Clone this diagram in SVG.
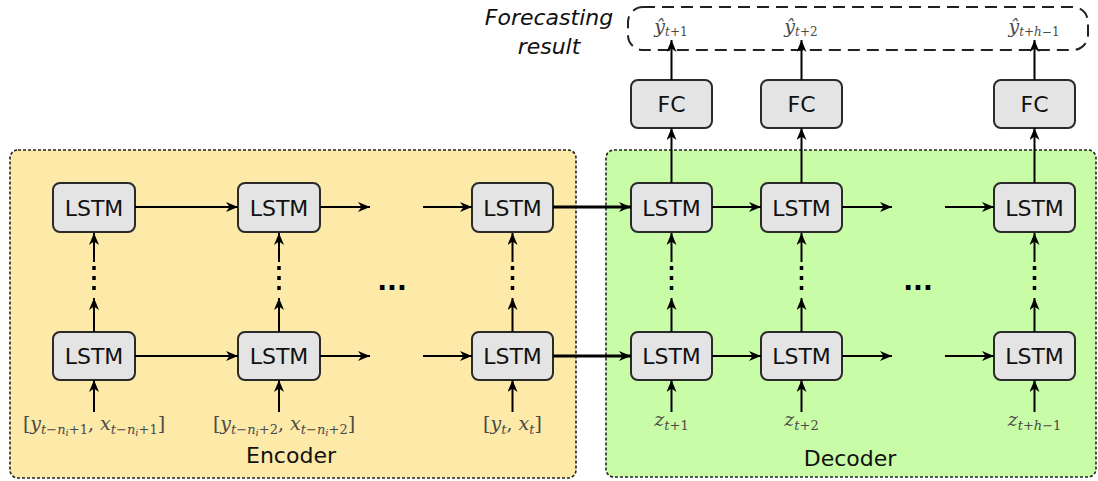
<svg xmlns="http://www.w3.org/2000/svg" width="1098" height="481" viewBox="0 0 1098 481">
  <style>
    .panel { stroke: #222; stroke-width: 1.6; stroke-dasharray: 3 2; }
    .cell rect { fill: #e4e4e4; stroke: #2a2a2a; stroke-width: 2; }
    .cell text { font-family: "DejaVu Sans", sans-serif; font-size: 22px; fill: #111; text-anchor: middle; }
    .wire { stroke: #000; stroke-width: 2; fill: none; }
    .wire-bold { stroke: #000; stroke-width: 2.8; fill: none; }
    .dots { stroke: #000; stroke-width: 3.5; stroke-dasharray: 4 6; fill: none; }
    .math { font-family: "DejaVu Serif", serif; font-size: 19px; fill: #4a4a4a; text-anchor: middle; }
    .it { font-style: italic; }
    .caption { font-family: "DejaVu Sans", sans-serif; font-size: 22px; fill: #111; text-anchor: middle; }
    .note { font-family: "DejaVu Sans", sans-serif; font-size: 22px; font-style: italic; fill: #111; text-anchor: middle; }
    .ell { font-family: "DejaVu Sans", sans-serif; font-size: 26px; font-weight: bold; fill: #000; text-anchor: middle; }
  </style>
  <defs>
    <marker id="tip" markerUnits="userSpaceOnUse" markerWidth="14" markerHeight="12" refX="12" refY="5" orient="auto">
      <path d="M0,0 L12,5 L0,10 L3.5,5 z" fill="#000"/>
    </marker>
  </defs>

  <!-- panels -->
  <g id="encoder">
    <rect class="panel" x="10" y="150" width="566" height="328" rx="8" fill="#fde9a8"/>
    <text class="caption" x="291" y="463">Encoder</text>
  </g>
  <g id="decoder">
    <rect class="panel" x="606" y="150" width="490" height="327" rx="8" fill="#c9fca6"/>
    <text class="caption" x="850" y="466">Decoder</text>
  </g>

  <!-- forecasting output region -->
  <g id="result">
    <rect x="628" y="7" width="460" height="43" rx="15" fill="none" stroke="#222" stroke-width="2" stroke-dasharray="12 7"/>
    <text class="note" x="549" y="25">Forecasting</text>
    <text class="note" x="549" y="54">result</text>
    <text class="math" x="671" y="33" font-size="17"><tspan class="it">ŷ</tspan><tspan font-size="12" dy="3"><tspan class="it">t</tspan>+1</tspan></text>
    <text class="math" x="801" y="33" font-size="17"><tspan class="it">ŷ</tspan><tspan font-size="12" dy="3"><tspan class="it">t</tspan>+2</tspan></text>
    <text class="math" x="1034" y="33" font-size="17"><tspan class="it">ŷ</tspan><tspan font-size="12" dy="3"><tspan class="it">t</tspan>+<tspan class="it">h</tspan>−1</tspan></text>
  </g>

  <!-- encoder cells -->
  <g id="enc-top-1" class="cell"><rect x="53" y="183" width="82" height="49" rx="7"/><text x="94" y="215.5">LSTM</text></g>
  <g id="enc-top-2" class="cell"><rect x="238" y="183" width="82" height="49" rx="7"/><text x="279" y="215.5">LSTM</text></g>
  <g id="enc-top-n" class="cell"><rect x="472" y="183" width="81" height="49" rx="7"/><text x="512.5" y="215.5">LSTM</text></g>
  <g id="enc-bot-1" class="cell"><rect x="53" y="332" width="82" height="48" rx="7"/><text x="94" y="364">LSTM</text></g>
  <g id="enc-bot-2" class="cell"><rect x="238" y="332" width="82" height="48" rx="7"/><text x="279" y="364">LSTM</text></g>
  <g id="enc-bot-n" class="cell"><rect x="472" y="332" width="81" height="48" rx="7"/><text x="512.5" y="364">LSTM</text></g>

  <!-- decoder cells -->
  <g id="dec-top-1" class="cell"><rect x="631" y="183" width="81" height="49" rx="7"/><text x="671.5" y="215.5">LSTM</text></g>
  <g id="dec-top-2" class="cell"><rect x="761" y="183" width="81" height="49" rx="7"/><text x="801.5" y="215.5">LSTM</text></g>
  <g id="dec-top-n" class="cell"><rect x="994" y="183" width="81" height="49" rx="7"/><text x="1034.5" y="215.5">LSTM</text></g>
  <g id="dec-bot-1" class="cell"><rect x="631" y="332" width="81" height="48" rx="7"/><text x="671.5" y="364">LSTM</text></g>
  <g id="dec-bot-2" class="cell"><rect x="761" y="332" width="81" height="48" rx="7"/><text x="801.5" y="364">LSTM</text></g>
  <g id="dec-bot-n" class="cell"><rect x="994" y="332" width="81" height="48" rx="7"/><text x="1034.5" y="364">LSTM</text></g>

  <!-- fully connected heads -->
  <g id="fc-1" class="cell"><rect x="631" y="80" width="81" height="48" rx="7"/><text x="671.5" y="112">FC</text></g>
  <g id="fc-2" class="cell"><rect x="761" y="80" width="81" height="48" rx="7"/><text x="801.5" y="112">FC</text></g>
  <g id="fc-n" class="cell"><rect x="994" y="80" width="81" height="48" rx="7"/><text x="1034.5" y="112">FC</text></g>

  <!-- connectors -->
  <g id="connectors">
    <!-- encoder recurrences -->
    <line class="wire" x1="135" y1="207" x2="238" y2="207" marker-end="url(#tip)"/>
    <line class="wire" x1="320" y1="207" x2="370" y2="207" marker-end="url(#tip)"/>
    <line class="wire" x1="423" y1="207" x2="472" y2="207" marker-end="url(#tip)"/>
    <line class="wire" x1="135" y1="356" x2="238" y2="356" marker-end="url(#tip)"/>
    <line class="wire" x1="320" y1="356" x2="370" y2="356" marker-end="url(#tip)"/>
    <line class="wire" x1="423" y1="356" x2="472" y2="356" marker-end="url(#tip)"/>
    <!-- encoder to decoder state hand-off -->
    <line class="wire-bold" x1="553" y1="207" x2="631" y2="207" marker-end="url(#tip)"/>
    <line class="wire-bold" x1="553" y1="356" x2="631" y2="356" marker-end="url(#tip)"/>
    <!-- decoder recurrences -->
    <line class="wire" x1="712" y1="207" x2="761" y2="207" marker-end="url(#tip)"/>
    <line class="wire" x1="842" y1="207" x2="892" y2="207" marker-end="url(#tip)"/>
    <line class="wire" x1="945" y1="207" x2="994" y2="207" marker-end="url(#tip)"/>
    <line class="wire" x1="712" y1="356" x2="761" y2="356" marker-end="url(#tip)"/>
    <line class="wire" x1="842" y1="356" x2="892" y2="356" marker-end="url(#tip)"/>
    <line class="wire" x1="945" y1="356" x2="994" y2="356" marker-end="url(#tip)"/>

    <!-- stacked layers (lower arrow, dotted gap, upper arrow) -->
    <g id="stack-links">
      <line class="wire" x1="94" y1="332" x2="94" y2="298" marker-end="url(#tip)"/>
      <line class="dots" x1="94" y1="266" x2="94" y2="296"/>
      <line class="wire" x1="94" y1="262" x2="94" y2="233" marker-end="url(#tip)"/>
      <line class="wire" x1="279" y1="332" x2="279" y2="298" marker-end="url(#tip)"/>
      <line class="dots" x1="279" y1="266" x2="279" y2="296"/>
      <line class="wire" x1="279" y1="262" x2="279" y2="233" marker-end="url(#tip)"/>
      <line class="wire" x1="512.5" y1="332" x2="512.5" y2="298" marker-end="url(#tip)"/>
      <line class="dots" x1="512.5" y1="266" x2="512.5" y2="296"/>
      <line class="wire" x1="512.5" y1="262" x2="512.5" y2="233" marker-end="url(#tip)"/>
      <line class="wire" x1="671.5" y1="332" x2="671.5" y2="298" marker-end="url(#tip)"/>
      <line class="dots" x1="671.5" y1="266" x2="671.5" y2="296"/>
      <line class="wire" x1="671.5" y1="262" x2="671.5" y2="233" marker-end="url(#tip)"/>
      <line class="wire" x1="801.5" y1="332" x2="801.5" y2="298" marker-end="url(#tip)"/>
      <line class="dots" x1="801.5" y1="266" x2="801.5" y2="296"/>
      <line class="wire" x1="801.5" y1="262" x2="801.5" y2="233" marker-end="url(#tip)"/>
      <line class="wire" x1="1034.5" y1="332" x2="1034.5" y2="298" marker-end="url(#tip)"/>
      <line class="dots" x1="1034.5" y1="266" x2="1034.5" y2="296"/>
      <line class="wire" x1="1034.5" y1="262" x2="1034.5" y2="233" marker-end="url(#tip)"/>
    </g>

    <!-- inputs -->
    <line class="wire" x1="94" y1="412" x2="94" y2="380" marker-end="url(#tip)"/>
    <line class="wire" x1="279" y1="412" x2="279" y2="380" marker-end="url(#tip)"/>
    <line class="wire" x1="512.5" y1="412" x2="512.5" y2="380" marker-end="url(#tip)"/>
    <line class="wire" x1="671.5" y1="412" x2="671.5" y2="380" marker-end="url(#tip)"/>
    <line class="wire" x1="801.5" y1="412" x2="801.5" y2="380" marker-end="url(#tip)"/>
    <line class="wire" x1="1034.5" y1="412" x2="1034.5" y2="380" marker-end="url(#tip)"/>

    <!-- decoder to FC to outputs -->
    <line class="wire" x1="671.5" y1="183" x2="671.5" y2="128" marker-end="url(#tip)"/>
    <line class="wire" x1="801.5" y1="183" x2="801.5" y2="128" marker-end="url(#tip)"/>
    <line class="wire" x1="1034.5" y1="183" x2="1034.5" y2="128" marker-end="url(#tip)"/>
    <line class="wire" x1="671.5" y1="80" x2="671.5" y2="40" marker-end="url(#tip)"/>
    <line class="wire" x1="801.5" y1="80" x2="801.5" y2="40" marker-end="url(#tip)"/>
    <line class="wire" x1="1034.5" y1="80" x2="1034.5" y2="40" marker-end="url(#tip)"/>
  </g>

  <!-- ellipses between columns -->
  <text class="ell" x="392" y="290">...</text>
  <text class="ell" x="918" y="290">...</text>

  <!-- input labels -->
  <text class="math" x="94" y="430">[<tspan class="it">y</tspan><tspan font-size="13" dy="4"><tspan class="it">t</tspan>−<tspan class="it">n</tspan></tspan><tspan font-size="10" dy="2" class="it">i</tspan><tspan font-size="13" dy="-2">+1</tspan><tspan dy="-4">, </tspan><tspan class="it">x</tspan><tspan font-size="13" dy="4"><tspan class="it">t</tspan>−<tspan class="it">n</tspan></tspan><tspan font-size="10" dy="2" class="it">i</tspan><tspan font-size="13" dy="-2">+1</tspan><tspan dy="-4">]</tspan></text>
  <text class="math" x="284" y="430">[<tspan class="it">y</tspan><tspan font-size="13" dy="4"><tspan class="it">t</tspan>−<tspan class="it">n</tspan></tspan><tspan font-size="10" dy="2" class="it">i</tspan><tspan font-size="13" dy="-2">+2</tspan><tspan dy="-4">, </tspan><tspan class="it">x</tspan><tspan font-size="13" dy="4"><tspan class="it">t</tspan>−<tspan class="it">n</tspan></tspan><tspan font-size="10" dy="2" class="it">i</tspan><tspan font-size="13" dy="-2">+2</tspan><tspan dy="-4">]</tspan></text>
  <text class="math" x="512.5" y="430">[<tspan class="it">y</tspan><tspan font-size="13" dy="4" class="it">t</tspan><tspan dy="-4">, </tspan><tspan class="it">x</tspan><tspan font-size="13" dy="4" class="it">t</tspan><tspan dy="-4">]</tspan></text>
  <text class="math" x="671.5" y="426"><tspan class="it">z</tspan><tspan font-size="13" dy="4"><tspan class="it">t</tspan>+1</tspan></text>
  <text class="math" x="801.5" y="426"><tspan class="it">z</tspan><tspan font-size="13" dy="4"><tspan class="it">t</tspan>+2</tspan></text>
  <text class="math" x="1034.5" y="426"><tspan class="it">z</tspan><tspan font-size="13" dy="4"><tspan class="it">t</tspan>+<tspan class="it">h</tspan>−1</tspan></text>
</svg>
